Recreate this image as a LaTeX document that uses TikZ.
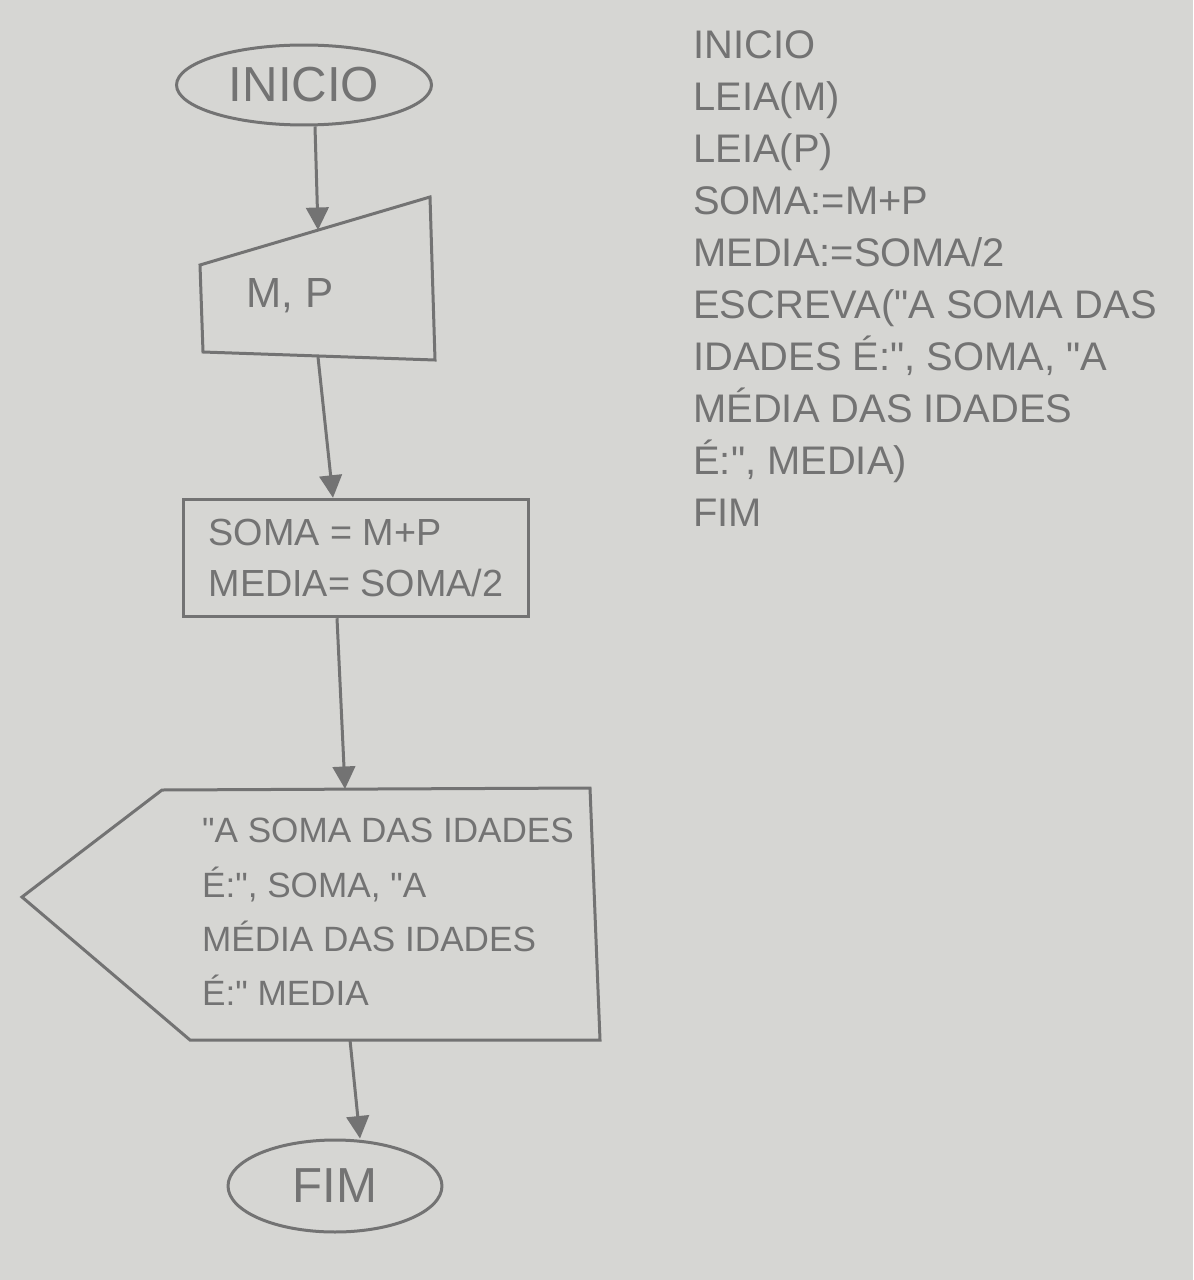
\documentclass[tikz,border=0pt]{standalone}
\usepackage{fontspec}
\setmainfont{Liberation Sans}
\newfontfamily\reto{Liberation Sans}
\usetikzlibrary{shapes.geometric,arrows.meta}
\definecolor{papel}{RGB}{214,214,211}
\definecolor{lapis}{RGB}{115,115,115}
\newcommand{\aspas}{{\reto\symbol{34}}}
\tikzset{
  traco/.style={line width=0.6mm, color=lapis},
  flecha/.style={traco, -{Triangle[length=4.5mm,width=4.5mm]}},
  oval/.style={traco, ellipse, draw, text=lapis},
  caixa/.style={traco, rectangle, draw, text=lapis, align=left},
  texto/.style={text=lapis, align=left, inner sep=0pt},
}

\begin{document}
\begin{tikzpicture}[x=0.02cm, y=-0.02cm]
			%%%%% FUNDO %%%%%
			\fill[papel] (0,0) rectangle (1193,1280);
			\useasboundingbox (0,0) rectangle (1193,1280);
			
			%%%%% FLUXOGRAMA %%%%%
			\node[oval, minimum width=5.1cm, minimum height=1.6cm, font=\fontsize{28}{30}\selectfont] (inicio) at (304, 85) {INICIO};
			
			% entrada manual
			\coordinate (e-a) at (200, 265);
			\coordinate (e-b) at (430, 197);
			\coordinate (e-c) at (435, 360);
			\coordinate (e-d) at (203, 352);
			\draw[traco] (e-a) -- (e-b) -- (e-c) -- (e-d) -- cycle;
			\node[texto, font=\fontsize{24}{28}\selectfont] (entrada) at (290, 296) {M, P};
			\coordinate (e-topo) at (318, 230);
			\coordinate (e-base) at (318, 357);
			
			% processo
			\node[caixa, minimum width=6.9cm, minimum height=2.35cm, font=\fontsize{21.5}{28.5}\selectfont] (proc) at (356, 558) {SOMA = M+P\\MEDIA= SOMA/2};
			
			% exibicao
			\coordinate (s-a) at (22, 897);
			\coordinate (s-b) at (162, 790);
			\coordinate (s-c) at (590, 788);
			\coordinate (s-d) at (600, 1040);
			\coordinate (s-e) at (190, 1040);
			\draw[traco] (s-a) -- (s-b) -- (s-c) -- (s-d) -- (s-e) -- cycle;
			\node[texto, font=\fontsize{20}{31}\selectfont] (saida) at (388, 912) {\aspas A SOMA DAS IDADES\\É:\aspas, SOMA, \aspas A\\MÉDIA DAS IDADES\\É:\aspas{} MEDIA};
			\coordinate (s-topo) at (345, 789);
			\coordinate (s-base) at (350, 1040);
			
			\node[oval, minimum width=4.28cm, minimum height=1.84cm, font=\fontsize{28}{30}\selectfont] (fim) at (335, 1186) {FIM};
			
			% setas
			\draw[flecha] ([xshift=0.22cm]inicio.south) -- (e-topo);
			\draw[flecha] (e-base) -- ([xshift=-0.46cm]proc.north);
			\draw[flecha] ([xshift=-0.38cm]proc.south) -- (s-topo);
			\draw[flecha] (s-base) -- ([xshift=0.5cm]fim.north);
			
			%%%%% PSEUDOCODIGO %%%%%
			\node[texto, anchor=north west, font=\fontsize{22.7}{29.6}\selectfont] (pseudo) at (693, 30) {INICIO\\LEIA(M)\\LEIA(P)\\SOMA:=M+P\\MEDIA:=SOMA/2\\ESCREVA(\aspas A SOMA DAS\\IDADES É:\aspas, SOMA, \aspas A\\MÉDIA DAS IDADES\\É:\aspas, MEDIA)\\FIM};
			
\end{tikzpicture}
\end{document}
